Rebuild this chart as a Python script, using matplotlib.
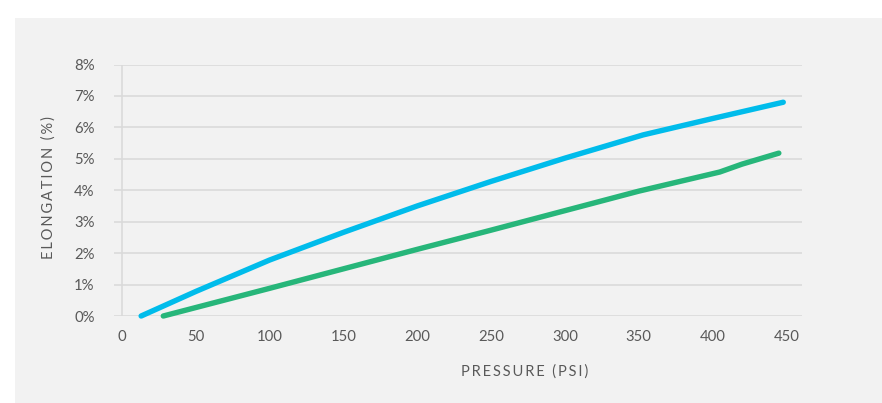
import matplotlib.pyplot as plt
from matplotlib.patches import Rectangle

# pressure (psi) vs elongation (fraction)
blue_psi = [13, 50, 100, 150, 200, 250, 300, 353, 400, 448]
blue_elong = [0.0, 0.0078, 0.0178, 0.0266, 0.0350, 0.0428, 0.0502, 0.0576, 0.0628, 0.0680]
green_psi = [28, 100, 150, 200, 250, 300, 350, 405, 420, 445]
green_elong = [0.0, 0.0088, 0.0150, 0.0212, 0.0273, 0.0335, 0.0397, 0.0458, 0.0483, 0.0518]

x_ticks = [0, 50, 100, 150, 200, 250, 300, 350, 400, 450]
y_ticks = [0.0, 0.01, 0.02, 0.03, 0.04, 0.05, 0.06, 0.07, 0.08]

FONT = ['Lato', 'DejaVu Sans']
TXT = '#595959'
HS = '\u2009'


def spaced(s):
  return HS.join(s)


def main() -> None:
  plt.rcParams['font.family'] = FONT
  W, H = 882, 403
  fig = plt.figure(figsize=(W / 100, H / 100), dpi=100, facecolor='white')
  fig.patches.append(Rectangle((15 / W, 0), 1 - 15 / W, 1 - 18 / H,
                               transform=fig.transFigure, facecolor='#f2f2f2',
                               edgecolor='none', zorder=-1))

  ax = fig.add_axes([114 / W, 1 - 316 / H, (802 - 114) / W, (316 - 64.5) / H])
  ax.set_facecolor('none')
  ax.set_xlim(-5.4, 460.7)
  ax.set_ylim(0, 0.08)

  for s in ax.spines.values():
    s.set_visible(False)
  for y in y_ticks:
    ax.axhline(y, color='#d9d9d9', lw=1.1, zorder=1)
  ax.plot([0, 0], [0, 0.08], color='#d9d9d9', lw=1.1, zorder=1)

  ax.plot(blue_psi, blue_elong, color='#00BCEB', lw=3.9, solid_capstyle='round',
          solid_joinstyle='round', zorder=3, clip_on=False)
  ax.plot(green_psi, green_elong, color='#27B67A', lw=3.9, solid_capstyle='round',
          solid_joinstyle='round', zorder=3, clip_on=False)

  ax.set_xticks(x_ticks)
  ax.set_xticklabels([str(v) for v in x_ticks])
  ax.set_yticks(y_ticks)
  ax.set_yticklabels(['%d%%' % round(v * 100) for v in y_ticks])
  ax.tick_params(length=0, labelsize=10.7, colors=TXT)
  ax.tick_params(axis='y', pad=14)
  ax.tick_params(axis='x', pad=10)

  fig.text(525 / W, 1 - 372 / H, spaced('PRESSURE (PSI)'), ha='center', va='center',
           fontsize=10.5, color=TXT)
  fig.text(49 / W, 1 - 188 / H, spaced('ELONGATION (%)'), ha='center', va='center',
           rotation=90, fontsize=10.5, color=TXT)

  fig.savefig('out.png', dpi=100, facecolor='white')


if __name__ == '__main__':
  main()
